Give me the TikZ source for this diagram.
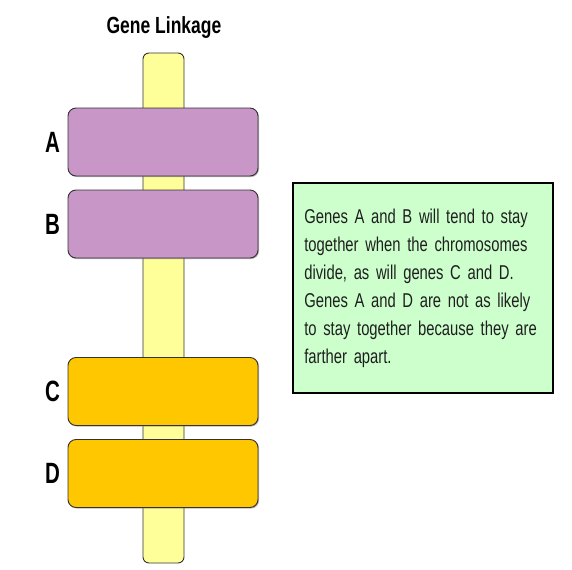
\documentclass[tikz,border=0pt]{standalone}
\usepackage{fontspec}
\setmainfont{Liberation Sans}
\newfontfamily\narrowfont{Liberation Sans}[FakeStretch=0.74]
\newfontfamily\narrowbold{Liberation Sans Bold}[FakeStretch=0.75]
\newfontfamily\labelbold{Liberation Sans Bold}[FakeStretch=0.7]
\newcommand{\notefont}{\narrowfont\fontsize{15}{21}\selectfont
  \spaceskip=3pt plus 1pt minus 0.5pt\relax}
\usepackage{xcolor}
\usetikzlibrary{positioning,shadows}
\definecolor{chromo}{HTML}{FFFF99}
\definecolor{orchid}{HTML}{C897C7}
\definecolor{amber}{HTML}{FFC700}
\definecolor{mint}{HTML}{CCFFCC}
\definecolor{outline}{HTML}{333333}

\begin{document}
\begin{tikzpicture}[x=0.75pt,y=-0.75pt,
  band/.style={draw=outline,line width=0.7pt,rounded corners=6pt,
    minimum width=142.5pt,minimum height=51pt,inner sep=0pt,
    drop shadow={shadow xshift=0.8pt,shadow yshift=-0.8pt,fill=black!55}},
  genelabel/.style={font=\labelbold\fontsize{22}{22}\selectfont,inner sep=0pt},
  note/.style={draw=black,line width=1.4pt,fill=mint,align=left,
    text width=178pt,minimum height=157.5pt,inner xsep=8.5pt,inner ysep=9pt,
    text=black!88,font=\notefont,
    drop shadow={shadow xshift=1pt,shadow yshift=-1pt,fill=black!45}}]
 \useasboundingbox (0,0) rectangle (572,569);
 \node[font=\narrowbold\fontsize{17.5}{17.5}\selectfont] (title) at (164,28) {Gene Linkage};
 \node[draw=outline,line width=0.7pt,fill=chromo,rounded corners=4.5pt,
   minimum width=30.75pt,minimum height=382.5pt,inner sep=0pt] (chromosome) at (163.5,308) {};
 \node[band,fill=orchid] (bandA) at (163,142) {};
 \node[band,fill=orchid] (bandB) at (163,224) {};
 \node[band,fill=amber] (bandC) at (163,391.5) {};
 \node[band,fill=amber] (bandD) at (163,473.5) {};
 \node[genelabel,left=5.5pt of bandA] (labA) {A};
 \node[genelabel,left=5.5pt of bandB] (labB) {B};
 \node[genelabel,left=5.5pt of bandC] (labC) {C};
 \node[genelabel,left=5.5pt of bandD] (labD) {D};
 \node[note] (explain) at (423,288) {Genes A and B will tend to stay\\
   together when the chromosomes\\divide, as will genes C and D.\\
   Genes A and D are not as likely\\to stay together because they are\\
   farther apart.};
\end{tikzpicture}
\end{document}
